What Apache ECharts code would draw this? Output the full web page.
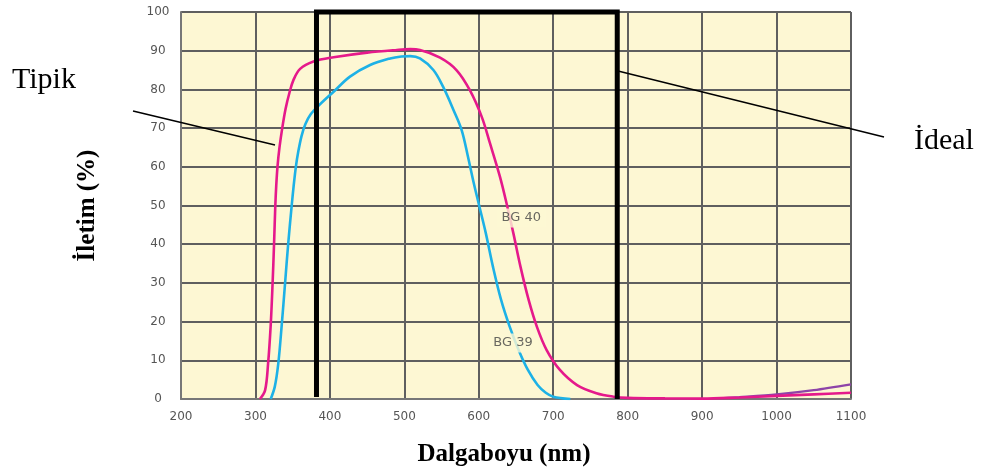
<!DOCTYPE html>
<html><head><meta charset="utf-8">
<script src="https://cdn.jsdelivr.net/npm/echarts@6/dist/echarts.min.js"></script>
<style>html,body{margin:0;padding:0;background:#fff}#c{width:982px;height:474px}</style>
</head><body><div id="c"></div>
<script>
// Data (wavelength nm, transmission %)
const bg40Nm  = [306,313,317,320.5,323,325,326.7,327.9,329.6,332.3,336,340.5,345.5,351,360,378,405,450,490,508,521,548,570,588,604,615,628.5,638,646.5,656,667,678,691,709,732,758,781,800,850,900,950,1000,1050,1100];
const bg40Val = [0,2.3,9.2,19.1,29.7,40.1,50,55,60,65,70,75,79,82.4,85.3,87.2,88.3,89.5,90.2,90.4,90.2,88.2,85,79.8,72.9,66.1,57.4,50,42.8,34.2,25.6,18.7,12.7,7.5,3.6,1.5,0.6,0.3,0.15,0.1,0.4,0.8,1.2,1.6];
const bg39Nm  = [320.5,326,330.7,335.3,339.7,344,348.7,351.3,354.3,357.6,362,367,374,386,405,427,454,481,496,508,521,539,552,566,577,585.5,593,600.5,609.5,619,630,641.5,654.5,666,679,690,700,723];
const bg39Val = [0,3.2,9.2,19.1,29.7,40.1,50,55,60,64,68,71,73.5,76,79.4,83.3,86.3,88,88.5,88.6,88,85,80.7,74.7,69.5,62.6,56,50,42.8,34.2,25.6,18.7,12.2,7.5,3.6,1.6,0.6,0];
const irNm    = [924,950,1000,1050,1100];
const irVal   = [0.2,0.5,1.2,2.3,3.8];
const idealNm  = [382,382,786,786];
const idealVal = [0.5,100,100,0];
const xTicks = [200,300,400,500,600,700,800,900,1000,1100];
const yTicks = [0,10,20,30,40,50,60,70,80,90,100];
const labels = [{text:'BG 40', nm:657, val:46.8}, {text:'BG 39', nm:646, val:14.5}];

const zip = (a,b)=>a.map((v,i)=>[v,b[i]]);
const chart = echarts.init(document.getElementById('c'));
const sans = 'DejaVu Sans';
const serif = 'Liberation Serif';
chart.setOption({
  animation:false,
  grid:{left:181,right:131,top:12,bottom:75,show:true,backgroundColor:'#FDF7D3',borderWidth:0},
  xAxis:{type:'value',min:xTicks[0],max:xTicks[xTicks.length-1],interval:100,
    axisLine:{show:true,lineStyle:{color:'#777',width:2}},axisTick:{show:false},
    axisLabel:{color:'#555',fontFamily:sans,fontSize:12,margin:12,formatter:v=>String(v)},
    splitLine:{show:true,lineStyle:{color:'#5f5f5f',width:2}},
    name:'Dalgaboyu (nm)',nameLocation:'middle',nameGap:43,
    nameTextStyle:{fontFamily:serif,fontWeight:'bold',fontSize:25,color:'#000',padding:[0,24,0,0]}},
  yAxis:{type:'value',min:yTicks[0],max:yTicks[yTicks.length-1],interval:10,
    axisLine:{show:true,lineStyle:{color:'#777',width:2}},axisTick:{show:false},
    axisLabel:{color:'#555',fontFamily:sans,fontSize:12,margin:23,align:'center'},
    splitLine:{show:true,lineStyle:{color:'#5f5f5f',width:2}},
    name:'İletim (%)',nameLocation:'middle',nameGap:81,nameRotate:90,
    nameTextStyle:{fontFamily:serif,fontWeight:'bold',fontSize:25,color:'#000'}},
  series:[
    {type:'line',data:zip(irNm,irVal),symbol:'none',smooth:0.3,lineStyle:{color:'#8E44A8',width:2.2},z:3},
    {type:'line',data:zip(bg39Nm,bg39Val),symbol:'none',smooth:0.35,lineStyle:{color:'#1DB1E6',width:2.6},z:4},
    {type:'line',data:zip(bg40Nm,bg40Val),symbol:'none',smooth:0.35,lineStyle:{color:'#E5198B',width:2.6},z:5},
    {type:'line',data:zip(idealNm,idealVal),symbol:'none',clip:false,lineStyle:{color:'#000',width:5,join:'miter',cap:'butt'},z:6},
    {type:'scatter',data:labels.map(l=>({value:[l.nm,l.val],name:l.text})),symbolSize:0,z:7,
      label:{show:true,position:'inside',formatter:p=>p.name,color:'#444',fontFamily:sans,fontSize:13,
        backgroundColor:'#FDF7D3',padding:[3,5]}}
  ],
  graphic:[
    {type:'text',left:12,top:65,style:{text:'Tipik',font:'30px "Liberation Serif"',fill:'#000'}},
    {type:'line',shape:{x1:133,y1:111,x2:275,y2:145},style:{stroke:'#000',lineWidth:1.5},z:10},
    {type:'text',left:914,top:126,style:{text:'İdeal',font:'30px "Liberation Serif"',fill:'#000'}},
    {type:'line',shape:{x1:618,y1:71,x2:884,y2:137},style:{stroke:'#000',lineWidth:1.5},z:10}
  ]
});
</script></body></html>
